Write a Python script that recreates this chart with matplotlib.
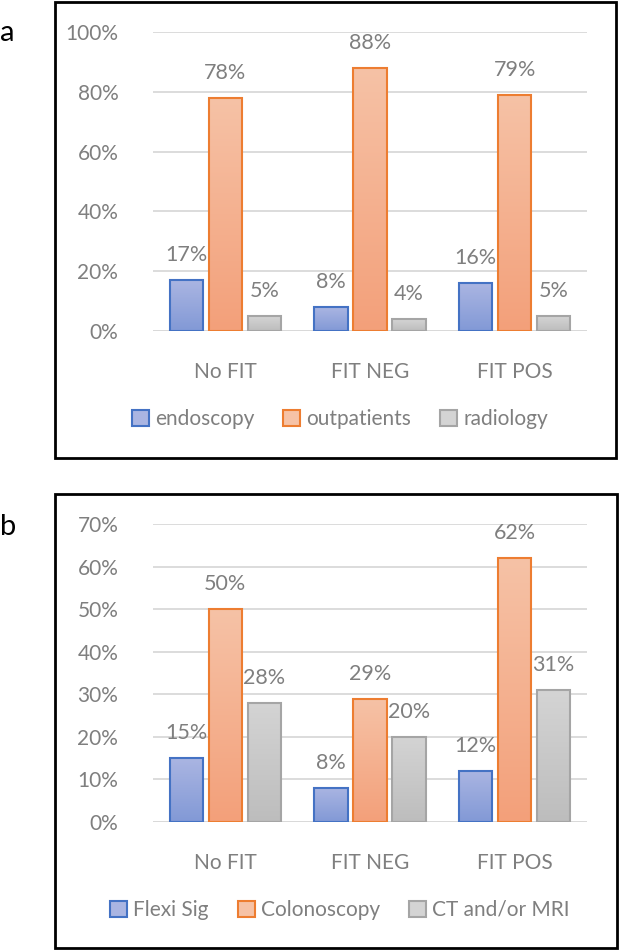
import numpy as np
import matplotlib.pyplot as plt
from matplotlib.patches import Rectangle, Patch
from matplotlib.colors import LinearSegmentedColormap
from matplotlib.ticker import PercentFormatter

plt.rcParams['font.family'] = ['Lato', 'DejaVu Sans']

# 数据
groups = ['No FIT', 'FIT NEG', 'FIT POS']

names_a = ['endoscopy', 'outpatients', 'radiology']
endoscopy = [17, 8, 16]
outpatients = [78, 88, 79]
radiology = [5, 4, 5]

names_b = ['Flexi Sig', 'Colonoscopy', 'CT and/or MRI']
flexi_sig = [15, 8, 12]
colonoscopy = [50, 29, 62]
ct_mri = [28, 20, 31]

# 颜色：顶部浅色、底部深色、边框
tops = ['#aab5e2', '#f6c2a6', '#d4d4d4']
bottoms = ['#8299d6', '#f3a07a', '#bdbdbd']
edges = ['#4472c4', '#ed7d31', '#a5a5a5']
txt = '#7f7f7f'

W, H = 619, 952
fig = plt.figure(figsize=(W / 100, H / 100), dpi=100)


def panel(rect, series, names, ymax, step, leg_y):
    ax = fig.add_axes(rect)
    x = np.arange(len(groups))
    width = 0.23
    offs = [-0.27, 0, 0.27]
    for i, vals in enumerate(series):
        cmap = LinearSegmentedColormap.from_list('g', [bottoms[i], tops[i]])
        for xi, v in zip(x, vals):
            x0 = xi + offs[i] - width / 2
            grad = np.linspace(1, 0, 100).reshape(-1, 1)
            ax.imshow(grad, cmap=cmap, aspect='auto', extent=(x0, x0 + width, 0, v),
                      zorder=2, interpolation='bicubic')
            ax.add_patch(Rectangle((x0, 0), width, v, fill=False,
                                   edgecolor=edges[i], linewidth=1.5, zorder=3))
            ax.text(xi + offs[i], v + ymax * 0.05, f'{v}%', ha='center', va='bottom',
                    color=txt, fontsize=15.5)
    ax.set_xlim(-0.5, 2.5)
    ax.set_ylim(0, ymax)
    ax.set_yticks(np.arange(0, ymax + 1, step))
    ax.yaxis.set_major_formatter(PercentFormatter(decimals=0))
    ax.set_xticks(x)
    ax.set_xticklabels(groups)
    ax.tick_params(axis='both', length=0, colors=txt, labelsize=15)
    ax.tick_params(axis='y', pad=25)
    ax.tick_params(axis='x', pad=22)
    ax.grid(axis='y', color='#d9d9d9', linewidth=1.3, zorder=0)
    ax.set_axisbelow(True)
    for s in ax.spines.values():
        s.set_visible(False)
    ax.axhline(0, color='#d9d9d9', linewidth=1.3, zorder=1)
    handles = [Patch(facecolor=tops[i], edgecolor=edges[i], linewidth=1.5, label=names[i])
               for i in range(3)]
    fig.legend(handles=handles, loc='center', bbox_to_anchor=(340 / W, 1 - leg_y / H),
               ncol=3, frameon=False, fontsize=15, labelcolor=txt,
               handlelength=0.8, handleheight=0.8, handletextpad=0.3, columnspacing=1.4)
    return ax


ax_a = panel([153 / W, 1 - 331 / H, 434 / W, 299 / H],
             [endoscopy, outpatients, radiology], names_a, 100, 20, 419)
ax_b = panel([153 / W, 1 - 822 / H, 434 / W, 298 / H],
             [flexi_sig, colonoscopy, ct_mri], names_b, 70, 10, 910)

# 外框
fig.add_artist(Rectangle((55 / W, 1 - 458 / H), 561 / W, 456 / H, transform=fig.transFigure,
                         fill=False, edgecolor='black', linewidth=2))
fig.add_artist(Rectangle((55 / W, 1 - 948 / H), 562 / W, 454 / H, transform=fig.transFigure,
                         fill=False, edgecolor='black', linewidth=2))

fig.text(0 / W, 1 - 33 / H, 'a', fontsize=21, va='center', ha='left')
fig.text(0 / W, 1 - 527 / H, 'b', fontsize=21, va='center', ha='left')

fig.savefig('out.png', dpi=100)
